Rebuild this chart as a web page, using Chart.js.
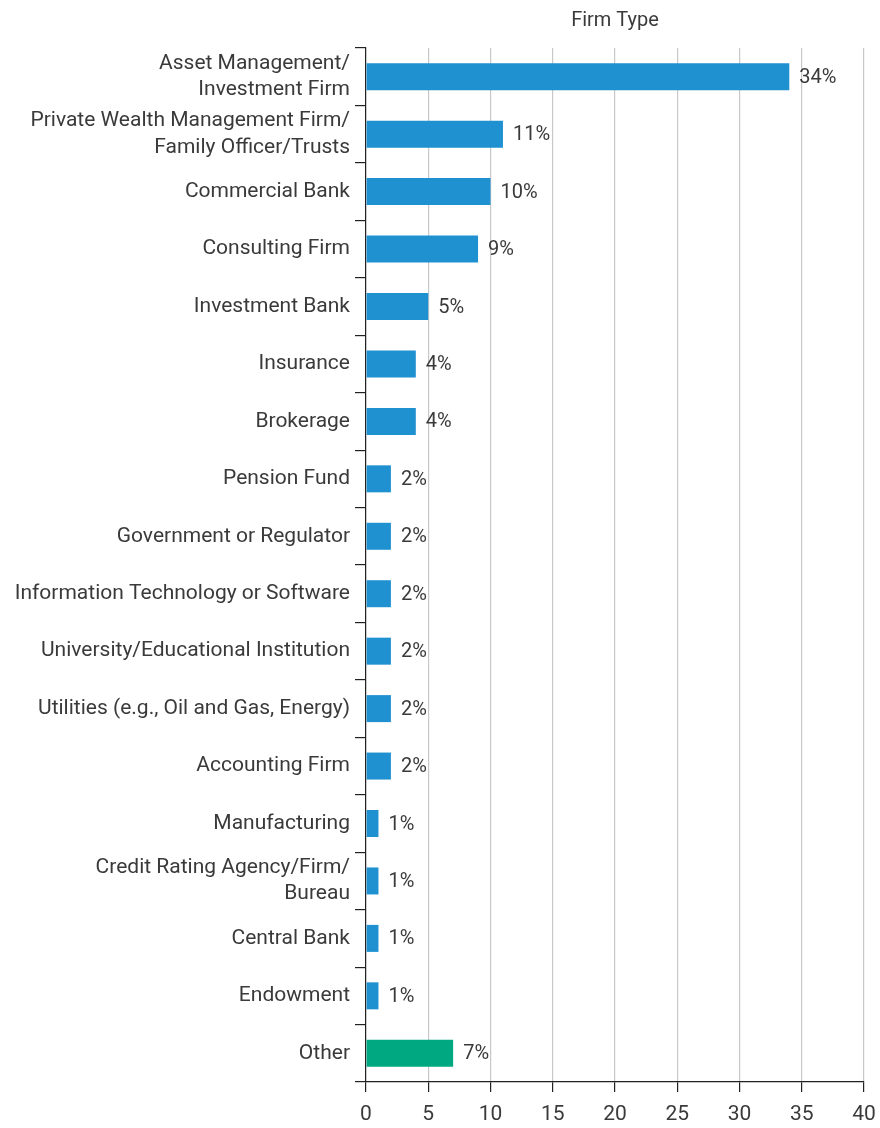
<!DOCTYPE html>
<html lang="en">
<head>
    <meta charset="UTF-8">
    <title> Firm Type </title>
    <script src="https://cdn.jsdelivr.net/npm/chart.js"></script>
    <style>
        /* Page body */
        body {
            margin: 0px;
            background: white;
        }
    </style>
</head>
<body>

<canvas id="graph1" width="880" height="1128"></canvas>

<script>
    const categories = [
        ["Asset Management/", "Investment Firm"],
        ["Private Wealth Management Firm/", "Family Officer/Trusts"],
        "Commercial Bank",
        "Consulting Firm",
        "Investment Bank",
        "Insurance",
        "Brokerage",
        "Pension Fund",
        "Government or Regulator",
        "Information Technology or Software",
        "University/Educational Institution",
        "Utilities (e.g., Oil and Gas, Energy)",
        "Accounting Firm",
        "Manufacturing",
        ["Credit Rating Agency/Firm/", "Bureau"],
        "Central Bank",
        "Endowment",
        "Other"
    ];
    const percentages = [34, 11, 10, 9, 5, 4, 4, 2, 2, 2, 2, 2, 2, 1, 1, 1, 1, 7];
    const xTicks = [0, 5, 10, 15, 20, 25, 30, 35, 40];

    const blue = '#1f90d0';
    const green = '#00a882';
    const textColor = '#3a3a3a';
    const fontName = 'Roboto, sans-serif';

    // value labels at the end of each bar
    const barLabels = {
        id: 'barLabels',
        afterDatasetsDraw(chart) {
            const ctx = chart.ctx;
            const meta = chart.getDatasetMeta(0);
            ctx.save();
            ctx.font = '20px ' + fontName;
            ctx.fillStyle = textColor;
            ctx.textAlign = 'left';
            ctx.textBaseline = 'middle';
            meta.data.forEach(function(bar, i) {
                ctx.fillText(percentages[i] + '%', bar.x + 10, bar.y + 1);
            });
            ctx.restore();
        }
    };

    const config = {
        type: 'bar',
        data: {
            labels: categories,
            datasets: [{
                label: 'Firm Type',
                data: percentages,
                backgroundColor: percentages.map(function(v, i) {
                    return i === percentages.length - 1 ? green : blue;
                }),
                barPercentage: 0.47,
                categoryPercentage: 1.0
            }]
        },
        options: {
            indexAxis: 'y',
            responsive: false,
            animation: false,
            layout: {
                padding: {left: 0, right: 16, top: 0, bottom: 0}
            },
            plugins: {
                legend: {display: false},
                tooltip: {enabled: false},
                title: {
                    display: true,
                    text: 'Firm Type',
                    fullSize: false,
                    color: textColor,
                    font: {family: fontName, size: 20, weight: 'normal'},
                    padding: {top: 9, bottom: 15}
                }
            },
            scales: {
                x: {
                    min: 0,
                    max: 40,
                    afterBuildTicks: function(scale) {
                        scale.ticks = xTicks.map(function(v) { return {value: v}; });
                    },
                    afterFit: function(scale) {
                        scale.height = 46;
                        scale.paddingLeft = 0;
                        scale.paddingRight = 0;
                    },
                    grid: {
                        color: '#c8c8c8',
                        tickColor: '#222',
                        tickLength: 10,
                        lineWidth: 1.2
                    },
                    border: {display: true, color: '#222', width: 1.2},
                    ticks: {
                        color: textColor,
                        font: {family: fontName, size: 21},
                        padding: 10,
                        maxRotation: 0
                    }
                },
                y: {
                    afterFit: function(scale) {
                        scale.width = 366;
                    },
                    grid: {
                        drawOnChartArea: false,
                        color: '#222',
                        tickLength: 11,
                        lineWidth: 1.2,
                        offset: true
                    },
                    border: {display: true, color: '#222', width: 1.2},
                    ticks: {
                        color: textColor,
                        font: {family: fontName, size: 21, lineHeight: 1.25},
                        padding: 5,
                        autoSkip: false
                    }
                }
            }
        },
        plugins: [barLabels]
    };

    let graph1 = new Chart(document.getElementById('graph1'), config);
</script>
</body>
</html>
